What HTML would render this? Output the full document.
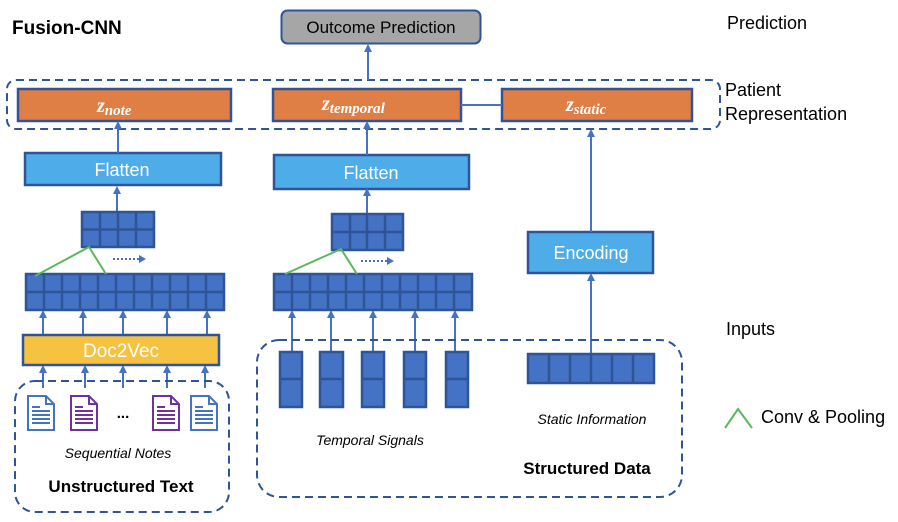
<!DOCTYPE html>
<html><head><meta charset="utf-8"><style>
html,body{margin:0;padding:0;background:#fff;}
svg{display:block;font-family:"Liberation Sans",sans-serif;}
</style></head><body>
<svg width="898" height="522" viewBox="0 0 898 522" xmlns="http://www.w3.org/2000/svg">
<defs>
<marker id="ah" markerWidth="8" markerHeight="8" refX="4" refY="4" orient="auto" markerUnits="userSpaceOnUse">
<path d="M0,0 L8,4 L0,8 z" fill="#4472c4"/></marker>
</defs>
<g font-family="Liberation Sans, sans-serif">
<text x="12" y="34" font-size="19" font-weight="bold" fill="#000">Fusion-CNN</text>
<!-- Outcome -->
<rect x="281.5" y="10.5" width="199" height="33" rx="6" fill="#a6a6a6" stroke="#2f5597" stroke-width="2"/>
<text x="381" y="33" font-size="17" text-anchor="middle" fill="#000">Outcome Prediction</text>
<!-- patient dashed -->
<rect x="7" y="80" width="713" height="49" rx="9" fill="none" stroke="#2f5597" stroke-width="2" stroke-dasharray="8,5"/>
<g stroke="#2f5597" stroke-width="2.5" fill="#e07f45">
<rect x="18" y="89" width="213" height="32"/>
<rect x="273" y="89" width="188" height="32"/>
<rect x="502" y="89" width="190" height="32"/>
</g>
<line x1="461" y1="105" x2="502" y2="105" stroke="#4472c4" stroke-width="2"/>
<g font-family="Liberation Serif, serif" font-style="italic" fill="#fff" font-weight="bold">
<text x="97" y="112" font-size="20">z<tspan font-size="15" dy="3">note</tspan></text>
<text x="322" y="110" font-size="20">z<tspan font-size="15" dy="3">temporal</tspan></text>
<text x="566" y="111" font-size="20">z<tspan font-size="15" dy="3">static</tspan></text>
</g>
<!-- Flatten -->
<g stroke="#2f5597" stroke-width="2.5" fill="#4eade9">
<rect x="25" y="153" width="196" height="32"/>
<rect x="274" y="155" width="195" height="34"/>
<rect x="528" y="232" width="125" height="41"/>
</g>
<g fill="#fff" font-size="18" text-anchor="middle">
<text x="122" y="176">Flatten</text>
<text x="371" y="179">Flatten</text>
<text x="591" y="259">Encoding</text>
</g>
<!-- arrows -->
<g stroke="#4472c4" stroke-width="2" marker-end="url(#ah)">
<line x1="368" y1="80" x2="368" y2="48"/>
<line x1="118" y1="153" x2="118" y2="125"/>
<line x1="367" y1="155" x2="367" y2="125"/>
<line x1="591" y1="232" x2="591" y2="133"/>
<line x1="117" y1="212" x2="117" y2="190"/>
<line x1="367" y1="214" x2="367" y2="192"/>
<line x1="591" y1="354" x2="591" y2="277"/>
<line x1="43" y1="335" x2="43" y2="314"/>
<line x1="83" y1="335" x2="83" y2="314"/>
<line x1="123" y1="335" x2="123" y2="314"/>
<line x1="167" y1="335" x2="167" y2="314"/>
<line x1="207" y1="335" x2="207" y2="314"/>
<line x1="43" y1="388" x2="43" y2="369"/>
<line x1="85" y1="388" x2="85" y2="369"/>
<line x1="123" y1="388" x2="123" y2="369"/>
<line x1="167" y1="388" x2="167" y2="369"/>
<line x1="205" y1="388" x2="205" y2="369"/>
<line x1="292" y1="352" x2="292" y2="314"/>
<line x1="331" y1="352" x2="331" y2="314"/>
<line x1="373" y1="352" x2="373" y2="314"/>
<line x1="415" y1="352" x2="415" y2="314"/>
<line x1="455" y1="352" x2="455" y2="314"/>
</g>
<!-- grids -->
<g fill="#4472c4" stroke="#2f5597" stroke-width="2.5">
<rect x="82" y="212" width="72" height="35"/>
<rect x="332" y="214" width="71" height="36"/>
<rect x="26" y="274" width="198" height="36"/>
<rect x="274" y="274" width="198" height="36"/>
<rect x="280" y="352" width="22" height="55"/>
<rect x="320" y="352" width="23" height="55"/>
<rect x="362" y="352" width="22" height="55"/>
<rect x="404" y="352" width="22" height="55"/>
<rect x="446" y="352" width="22" height="55"/>
<rect x="528" y="354" width="126" height="29"/>
</g>
<g stroke="#2f5597" stroke-width="2.5">
<line x1="82" y1="229.5" x2="154" y2="229.5"/>
<line x1="100" y1="212" x2="100" y2="247"/><line x1="118" y1="212" x2="118" y2="247"/><line x1="136" y1="212" x2="136" y2="247"/>
<line x1="332" y1="232" x2="403" y2="232"/>
<line x1="350" y1="214" x2="350" y2="250"/><line x1="367" y1="214" x2="367" y2="250"/><line x1="385" y1="214" x2="385" y2="250"/>
<line x1="26" y1="292" x2="224" y2="292"/>
<line x1="274" y1="292" x2="472" y2="292"/>
<line x1="280" y1="379" x2="302" y2="379"/><line x1="320" y1="379" x2="343" y2="379"/><line x1="362" y1="379" x2="384" y2="379"/><line x1="404" y1="379" x2="426" y2="379"/><line x1="446" y1="379" x2="468" y2="379"/>
<line x1="549" y1="354" x2="549" y2="383"/><line x1="570" y1="354" x2="570" y2="383"/><line x1="591" y1="354" x2="591" y2="383"/><line x1="612" y1="354" x2="612" y2="383"/><line x1="633" y1="354" x2="633" y2="383"/>
</g>
<g stroke="#2f5597" stroke-width="2.5">
<line x1="44" y1="274" x2="44" y2="310"/><line x1="62" y1="274" x2="62" y2="310"/><line x1="80" y1="274" x2="80" y2="310"/><line x1="98" y1="274" x2="98" y2="310"/><line x1="116" y1="274" x2="116" y2="310"/><line x1="134" y1="274" x2="134" y2="310"/><line x1="152" y1="274" x2="152" y2="310"/><line x1="170" y1="274" x2="170" y2="310"/><line x1="188" y1="274" x2="188" y2="310"/><line x1="206" y1="274" x2="206" y2="310"/>
<line x1="292" y1="274" x2="292" y2="310"/><line x1="310" y1="274" x2="310" y2="310"/><line x1="328" y1="274" x2="328" y2="310"/><line x1="346" y1="274" x2="346" y2="310"/><line x1="364" y1="274" x2="364" y2="310"/><line x1="382" y1="274" x2="382" y2="310"/><line x1="400" y1="274" x2="400" y2="310"/><line x1="418" y1="274" x2="418" y2="310"/><line x1="436" y1="274" x2="436" y2="310"/><line x1="454" y1="274" x2="454" y2="310"/>
</g>
<!-- green conv -->
<g stroke="#5cb85c" stroke-width="2" fill="none">
<polyline points="35,276 89,247 106,274"/>
<polyline points="285,274 341,249 357,274"/>
<polyline points="725,428 738,409 752,428"/>
</g>
<!-- dotted arrows -->
<g stroke="#4472c4" stroke-width="2" stroke-dasharray="2,2">
<line x1="113" y1="259" x2="140" y2="259"/>
<line x1="361" y1="261" x2="388" y2="261"/>
</g>
<path d="M139,255 L146,259 L139,263z M387,257 L394,261 L387,265z" fill="#4472c4"/>
<!-- Doc2Vec -->
<rect x="23" y="335" width="196" height="30" fill="#f5c242" stroke="#2f5597" stroke-width="2.5"/>
<text x="121" y="357" font-size="19" fill="#fff" text-anchor="middle">Doc2Vec</text>
<!-- dashed input boxes -->
<rect x="15" y="381" width="214" height="131" rx="20" fill="none" stroke="#2f5597" stroke-width="2" stroke-dasharray="8,5"/>
<rect x="257" y="340" width="425" height="157" rx="22" fill="none" stroke="#2f5597" stroke-width="2" stroke-dasharray="8,5"/>
<!-- docs -->
<g fill="#fff" stroke-width="2">
<g stroke="#4472c4"><path d="M28,396 H46 L54,404 V430 H28 Z M46,396 V404 H54"/><path d="M32,411h18M32,415h18M32,419h18M32,423h18M32,407h8"/></g>
<g stroke="#7030a0"><path d="M71,396 H89 L97,404 V430 H71 Z M89,396 V404 H97"/><path d="M75,411h18M75,415h18M75,419h18M75,423h18M75,407h8"/></g>
<g stroke="#7030a0"><path d="M153,396 H171 L179,404 V430 H153 Z M171,396 V404 H179"/><path d="M157,411h18M157,415h18M157,419h18M157,423h18M157,407h8"/></g>
<g stroke="#4472c4"><path d="M191,396 H209 L217,404 V430 H191 Z M209,396 V404 H217"/><path d="M195,411h18M195,415h18M195,419h18M195,423h18M195,407h8"/></g>
</g>
<text x="123" y="418" font-size="15" text-anchor="middle" font-weight="bold">...</text>
<g font-style="italic" font-size="14" text-anchor="middle" fill="#000">
<text x="118" y="458">Sequential Notes</text>
<text x="370" y="445">Temporal Signals</text>
<text x="592" y="424">Static Information</text>
</g>
<g font-weight="bold" font-size="17" text-anchor="middle" fill="#000">
<text x="121" y="492">Unstructured Text</text>
<text x="587" y="474">Structured Data</text>
</g>
<g font-size="18" fill="#000">
<text x="727" y="29">Prediction</text>
<text x="725" y="96">Patient</text>
<text x="725" y="120">Representation</text>
<text x="726" y="335">Inputs</text>
<text x="761" y="423">Conv &amp; Pooling</text>
</g>
</g>
</svg>
</body></html>
